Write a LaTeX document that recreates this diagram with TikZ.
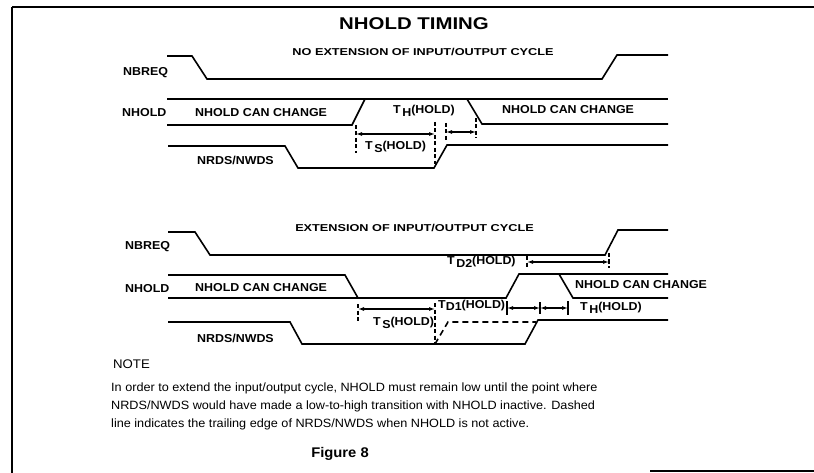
\documentclass[tikz,border=0pt]{standalone}
\usepackage{fontspec}
\setmainfont{Liberation Sans}
\newfontfamily\lblfont{Liberation Sans}[FakeStretch=1.08]
\newfontfamily\subfont{Liberation Sans}[FakeStretch=1.27]
\newfontfamily\ttlfont{Liberation Sans}[FakeStretch=1.2]
\newfontfamily\notefont{Liberation Sans}[FakeStretch=1.055]
\usetikzlibrary{arrows.meta}
\newcommand{\tsub}[1]{T\kern1.5pt\raisebox{-2.5pt}{#1}}
\tikzset{
  wave/.style={line width=1.6pt, line join=miter},
  dwave/.style={line width=1.6pt, dash pattern=on 6pt off 4pt},
  dimdash/.style={line width=1.3pt, dash pattern=on 4pt off 2.5pt},
  bar/.style={line width=1.7pt},
  dimarr/.style={line width=1.1pt, {Latex[length=6pt,width=4pt]}-{Latex[length=6pt,width=4pt]}},
  lbl/.style={inner sep=0pt, anchor=west, font=\lblfont\bfseries\fontsize{11.5}{12}\selectfont},
  note/.style={inner sep=0pt, anchor=west, font=\notefont\fontsize{12}{13}\selectfont},
  frame/.style={line width=1.2pt}
}
\begin{document}
\begin{tikzpicture}[x=1pt,y=-1pt]
\useasboundingbox (0,0) rectangle (814,473);
% frame
\draw[frame] (12,7) -- (814,7);
\draw[frame] (12,7) -- (12,473);
\draw[frame] (650,471) -- (814,471);

% titles
\node[inner sep=0pt, font=\ttlfont\bfseries\fontsize{17}{18}\selectfont] (title) at (414,24) {NHOLD TIMING};
\node[inner sep=0pt, font=\subfont\bfseries\fontsize{10}{11}\selectfont] (sub1) at (423,52) {NO EXTENSION OF INPUT/OUTPUT CYCLE};
\node[inner sep=0pt, font=\subfont\bfseries\fontsize{10}{11}\selectfont] (sub2) at (414.5,228) {EXTENSION OF INPUT/OUTPUT CYCLE};

% ---------- upper diagram ----------
\node[lbl] (nbreq1) at (123,73) {NBREQ};
\node[lbl] (nhold1) at (122,113) {NHOLD};
\node[lbl] (nhc1a) at (195,113) {NHOLD CAN CHANGE};
\node[lbl] (th1) at (393,111) {\tsub{H}(HOLD)};
\node[lbl] (nhc1b) at (502,110) {NHOLD CAN CHANGE};
\node[lbl] (ts1) at (365,147) {\tsub{S}(HOLD)};
\node[lbl] (nrds1) at (197,160) {NRDS/NWDS};

\draw[wave] (167,56) -- (192,56) -- (207,79) -- (602,79) -- (617,55) -- (668,55);
\draw[wave] (167,99) -- (668,99);
\draw[wave] (167,125) -- (352,125) -- (365,99);
\draw[wave] (467,99) -- (482,124) -- (668,124);
\draw[wave] (168,146) -- (285,146) -- (298,168) -- (434,168) -- (447,145) -- (668,145);

\coordinate (u1a) at (356,134); \coordinate (u1b) at (435,134);
\coordinate (u2a) at (446,132); \coordinate (u2b) at (476,132);
\draw[dimdash] (356,125) -- (356,153);
\draw[dimdash] (435,122) -- (435,164);
\draw[dimdash] (446,123) -- (446,142);
\draw[dimdash] (476,118) -- (476,138);
\draw[dimarr] (u1a) -- (u1b);
\draw[dimarr] (u2a) -- (u2b);

% ---------- lower diagram ----------
\node[lbl] (nbreq2) at (125,247) {NBREQ};
\node[lbl] (nhold2) at (125,289) {NHOLD};
\node[lbl] (nhc2a) at (195,288) {NHOLD CAN CHANGE};
\node[lbl] (nhc2b) at (575,285) {NHOLD CAN CHANGE};
\node[lbl] (td2) at (447,262) {\tsub{D2}(HOLD)};
\node[lbl] (ts2) at (373,323) {\tsub{S}(HOLD)};
\node[lbl] (td1) at (438,306) {T\raisebox{-1.5pt}{D1}(HOLD)};
\node[lbl] (th2) at (580,308) {\tsub{H}(HOLD)};
\node[lbl] (nrds2) at (197,338) {NRDS/NWDS};

\draw[wave] (168,232) -- (195,232) -- (210,255) -- (605,255) -- (618,230) -- (668,230);
\draw[wave] (168,275) -- (345,275) -- (358,298);
\draw[wave] (168,298) -- (506,298) -- (519,274) -- (668,274);
\draw[wave] (559,274) -- (573,298) -- (668,298);
\draw[wave] (168,322) -- (290,322) -- (302,344) -- (525,344) -- (538,320) -- (668,320);
\draw[dwave] (435,344) -- (448,322) -- (536,322);

\coordinate (l1a) at (358,309); \coordinate (l1b) at (435,309);
\draw[dimdash] (358,304) -- (358,321);
\draw[dimdash] (435,303) -- (435,343);
\draw[dimarr] (l1a) -- (l1b);

\coordinate (l2a) at (507,308); \coordinate (l2b) at (540,308); \coordinate (l2c) at (568,308);
\draw[bar] (507,301) -- (507,315);
\draw[line width=1.2pt] (540,302) -- (540,314);
\draw[bar] (568,301) -- (568,315);
\draw[dimarr] (l2a) -- (l2b);
\draw[dimarr] (l2b) -- (l2c);

\coordinate (d2a) at (527,262); \coordinate (d2b) at (609,262);
\draw[dimdash] (527,256) -- (527,268);
\draw[dimdash] (609,253) -- (609,268);
\draw[dimarr] (d2a) -- (d2b);

% ---------- note ----------
\node[note, font=\notefont\fontsize{12.5}{13}\selectfont] (notehd) at (113,364) {NOTE};
\node[note] (n1) at (111,388) {In order to extend the input/output cycle, NHOLD must remain low until the point where};
\node[note] (n2) at (111,406) {NRDS/NWDS would have made a low-to-high transition with NHOLD inactive. Dashed};
\node[note] (n3) at (111,424) {line indicates the trailing edge of NRDS/NWDS when NHOLD is not active.};
\node[inner sep=0pt, font=\notefont\bfseries\fontsize{14}{15}\selectfont] (fig) at (340,454) {Figure 8};
\end{tikzpicture}
\end{document}
